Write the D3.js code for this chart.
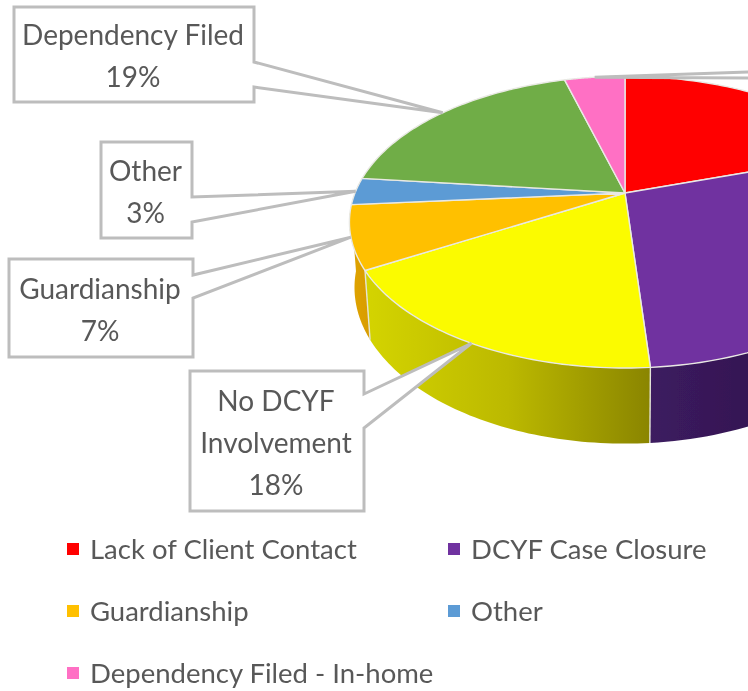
<!DOCTYPE html>
<html>
<head>
<meta charset="utf-8">
<script src="https://cdn.jsdelivr.net/npm/d3@7"></script>
<style>
  html, body { margin: 0; padding: 0; background: #fff; }
  svg { display: block; }
  text { font-family: Lato, "Open Sans", sans-serif; fill: #595959; }
</style>
</head>
<body>
<div id="chart"></div>
<script>
// pie values, clockwise from 12 o'clock (percent)
const categories = ['Lack of Client Contact', 'DCYF Case Closure', 'No DCYF Involvement', 'Guardianship', 'Other', 'Dependency Filed', 'Dependency Filed - In-home'];
const values = [20, 28.8, 17.9, 7, 3, 19, 4.3];
const colors = ['#ff0000', '#7030a0', '#fbfb00', '#ffc000', '#5b9bd5', '#70ad47', '#ff70c4'];
const wallColors = [
  ['#800000', '#800000'],
  ['#3c1b60', '#2a1140'],
  ['#d4d400', '#bcb900', '#8a8500'],
  ['#e0a400', '#d89c00'],
  ['#4a82b4', '#4a82b4'],
  ['#5c8f3a', '#5c8f3a'],
  ['#c9589b', '#c9589b']
];

// callouts: which slice, text lines and the box on the page
const calloutSlices = ['Dependency Filed', 'Other', 'Guardianship', 'No DCYF Involvement', 'Dependency Filed - In-home'];
const calloutLines = [['Dependency Filed', '19%'], ['Other', '3%'], ['Guardianship', '7%'], ['No DCYF', 'Involvement', '18%'], []];
const calloutBoxes = [[14, 7, 254, 102], [101, 142, 192, 238], [9, 259, 193, 357], [190, 371, 364, 511], [790, 40, 900, 110]];
const calloutTails = [[62, 87], [197, 222], [275, 298], [394, 428], [72, 78]];
const calloutTailX = [254, 192, 193, 364, 748];

const legendNames = ['Lack of Client Contact', 'DCYF Case Closure', 'Guardianship', 'Other', 'Dependency Filed - In-home'];
const legendCols = [0, 1, 0, 1, 0];
const legendRows = [0, 0, 1, 1, 2];

const width = 748;
const height = 691;

const svg = d3.select('#chart').append('svg')
  .attr('width', width)
  .attr('height', height);

const defs = svg.append('defs');
defs.append('filter').attr('id', 'soft')
  .attr('x', '-5%').attr('y', '-5%').attr('width', '110%').attr('height', '110%')
  .append('feGaussianBlur').attr('stdDeviation', 0.55);

const root = svg.append('g').attr('filter', 'url(#soft)');

// tilted disc with perspective: unit circle (u,v) to the page, z = 1 is the bottom of the pie
const hub = { x: 625, y: 193 };
const persp = { a: 270, b: 140, p: 0.2, q: 0.018, depth: 65 };

function project(angle, r, z) {
  const u = Math.sin(angle) * r;
  const v = -Math.cos(angle) * r;
  const w = 1 - persp.p * v + persp.q * z;
  return [hub.x + persp.a * u / w, hub.y + (persp.b * v + persp.depth * z) / w];
}

const arcs = d3.pie().sort(null).value(d => d)(values);
const sweep = (a0, a1) => d3.range(0, 61).map(i => a0 + (a1 - a0) * i / 60);
const rimLine = d3.line();

// only the front of the side wall can be seen
const wallFrom = Math.PI / 2;
const wallTo = Math.PI * 1.47;

arcs.forEach((d, i) => {
  const a0 = Math.max(d.startAngle, wallFrom);
  const a1 = Math.min(d.endAngle, wallTo);
  if (a1 <= a0) return;
  const top = sweep(a0, a1).map(a => project(a, 1, 0));
  const bottom = sweep(a1, a0).map(a => project(a, 1, 1));
  const pts = top.concat(bottom);
  const xr = d3.extent(pts, p => p[0]);
  const grad = defs.append('linearGradient')
    .attr('id', 'wall' + i)
    .attr('gradientUnits', 'userSpaceOnUse')
    .attr('x1', xr[0]).attr('x2', xr[1]).attr('y1', 0).attr('y2', 0);
  wallColors[i].forEach((c, k) => {
    grad.append('stop').attr('offset', k / (wallColors[i].length - 1)).attr('stop-color', c);
  });
  root.append('path')
    .attr('d', rimLine(pts) + 'Z')
    .attr('fill', `url(#wall${i})`);
  if (d.startAngle >= wallFrom) {
    const s = project(d.startAngle, 1, 0);
    const e = project(d.startAngle, 1, 1);
    root.append('line')
      .attr('x1', s[0]).attr('y1', s[1]).attr('x2', e[0]).attr('y2', e[1])
      .attr('stroke', '#e4e4d8').attr('stroke-width', 1.4);
  }
});

// top faces
root.selectAll('path.slice')
  .data(arcs)
  .join('path')
  .attr('class', 'slice')
  .attr('d', d => rimLine([[hub.x, hub.y]].concat(sweep(d.startAngle, d.endAngle).map(a => project(a, 1, 0)))) + 'Z')
  .attr('fill', (d, i) => colors[i])
  .attr('stroke', '#e9e9e4')
  .attr('stroke-width', 1.4)
  .attr('stroke-linejoin', 'round');

// callouts with a tail to the middle of the slice rim
calloutSlices.forEach((name, i) => {
  const d = arcs[categories.indexOf(name)];
  const tip = project((d.startAngle + d.endAngle) / 2, 1, 0);
  const [x0, y0, x1, y1] = calloutBoxes[i];
  const [t0, t1] = calloutTails[i];
  const tx = calloutTailX[i];
  root.append('path')
    .attr('d', rimLine([[x0, y0], [x1, y0], [x1, t0], [tx, t0], tip, [tx, t1], [x1, t1], [x1, y1], [x0, y1]]) + 'Z')
    .attr('fill', '#fff')
    .attr('stroke', '#bdbdbd')
    .attr('stroke-width', 3)
    .attr('stroke-linejoin', 'miter');
  const lines = calloutLines[i];
  root.selectAll(null)
    .data(lines)
    .join('text')
    .attr('class', 'callout')
    .attr('x', (x0 + x1) / 2 - 1)
    .attr('y', (l, k) => (y0 + y1) / 2 + 2 + (k - (lines.length - 1) / 2) * 42)
    .attr('dy', '0.35em')
    .attr('text-anchor', 'middle')
    .style('font-size', '28px')
    .text(l => l);
});

// legend
const legendX = d3.scaleOrdinal().domain([0, 1]).range([67, 448]);
const legendY = d3.scaleOrdinal().domain([0, 1, 2]).range([549, 611, 673]);
const legend = root.selectAll('g.legend')
  .data(legendNames)
  .join('g')
  .attr('class', 'legend')
  .attr('transform', (d, i) => `translate(${legendX(legendCols[i])},${legendY(legendRows[i])})`);

legend.append('rect')
  .attr('x', 0).attr('y', -6)
  .attr('width', 12).attr('height', 12)
  .attr('fill', d => colors[categories.indexOf(d)]);

legend.append('text')
  .attr('x', 23)
  .attr('dy', '0.35em')
  .style('font-size', '27.5px')
  .text(d => d);
</script>
</body>
</html>
